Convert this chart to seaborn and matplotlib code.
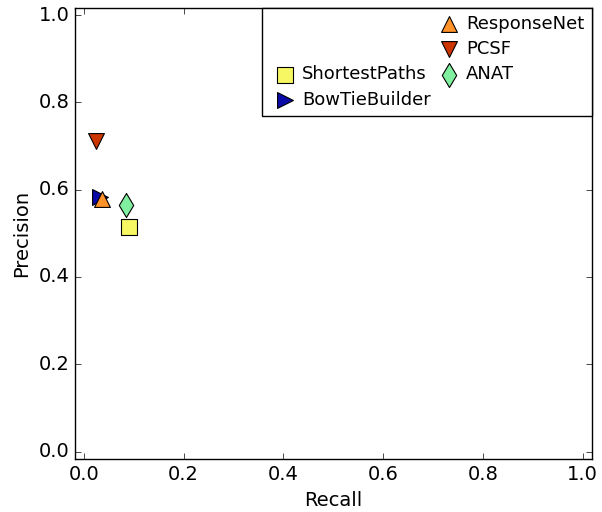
import matplotlib
matplotlib.use("Agg")
import matplotlib.pyplot as plt
import seaborn as sns
from matplotlib.lines import Line2D

# Precision / recall of each pathway reconstruction method
methods = ["ResponseNet", "PCSF", "ShortestPaths", "BowTieBuilder", "ANAT"]
recall = [0.036, 0.025, 0.091, 0.032, 0.085]
precision = [0.579, 0.712, 0.515, 0.584, 0.565]
markers = ["^", "v", "s", ">", "d"]
colors = ["#ff9228", "#cc3400", "#f7f763", "#0a0aa8", "#80f0a0"]

plt.style.use("classic")
plt.rcParams["font.family"] = ["DejaVu Sans"]
plt.rcParams["font.size"] = 14
fig = plt.figure(figsize=(6.02, 5.12), dpi=100)
ax = fig.add_axes([0.1244, 0.1035, 0.8586, 0.8815])

# Draw BowTieBuilder first so ResponseNet sits on top of it
order = [3, 0, 1, 2, 4]
for i in order:
    sns.scatterplot(x=[recall[i]], y=[precision[i]], marker=markers[i],
                    color=colors[i], edgecolor="black", linewidth=0.8,
                    s=130 if markers[i] != "d" else 150, label=methods[i], ax=ax, zorder=3)

ax.set_xlim(-0.018, 1.018)
ax.set_ylim(-0.017, 1.017)
ax.set_xticks([0.0, 0.2, 0.4, 0.6, 0.8, 1.0])
ax.set_yticks([0.0, 0.2, 0.4, 0.6, 0.8, 1.0])
ax.tick_params(labelsize=14)
ax.set_xlabel("Recall", fontsize=14)
ax.set_ylabel("Precision", fontsize=14)

# Legend laid out in two columns with blank slots like the original
handles, labels = ax.get_legend_handles_labels()
lookup = dict(zip(labels, handles))
blank = Line2D([], [], linestyle="none", marker=None)
leg_handles = [blank, blank, lookup["ShortestPaths"], lookup["BowTieBuilder"],
               lookup["ResponseNet"], lookup["PCSF"], lookup["ANAT"], blank]
leg_labels = ["", "", "ShortestPaths", "BowTieBuilder",
              "ResponseNet", "PCSF", "ANAT", ""]
ax.legend(leg_handles, leg_labels, ncol=2, loc="upper right", borderaxespad=0,
          scatterpoints=1, fontsize=13, handletextpad=0.05, handlelength=1.8,
          columnspacing=0.1, labelspacing=0.4, borderpad=0.4)

fig.savefig("out.png", dpi=100)
